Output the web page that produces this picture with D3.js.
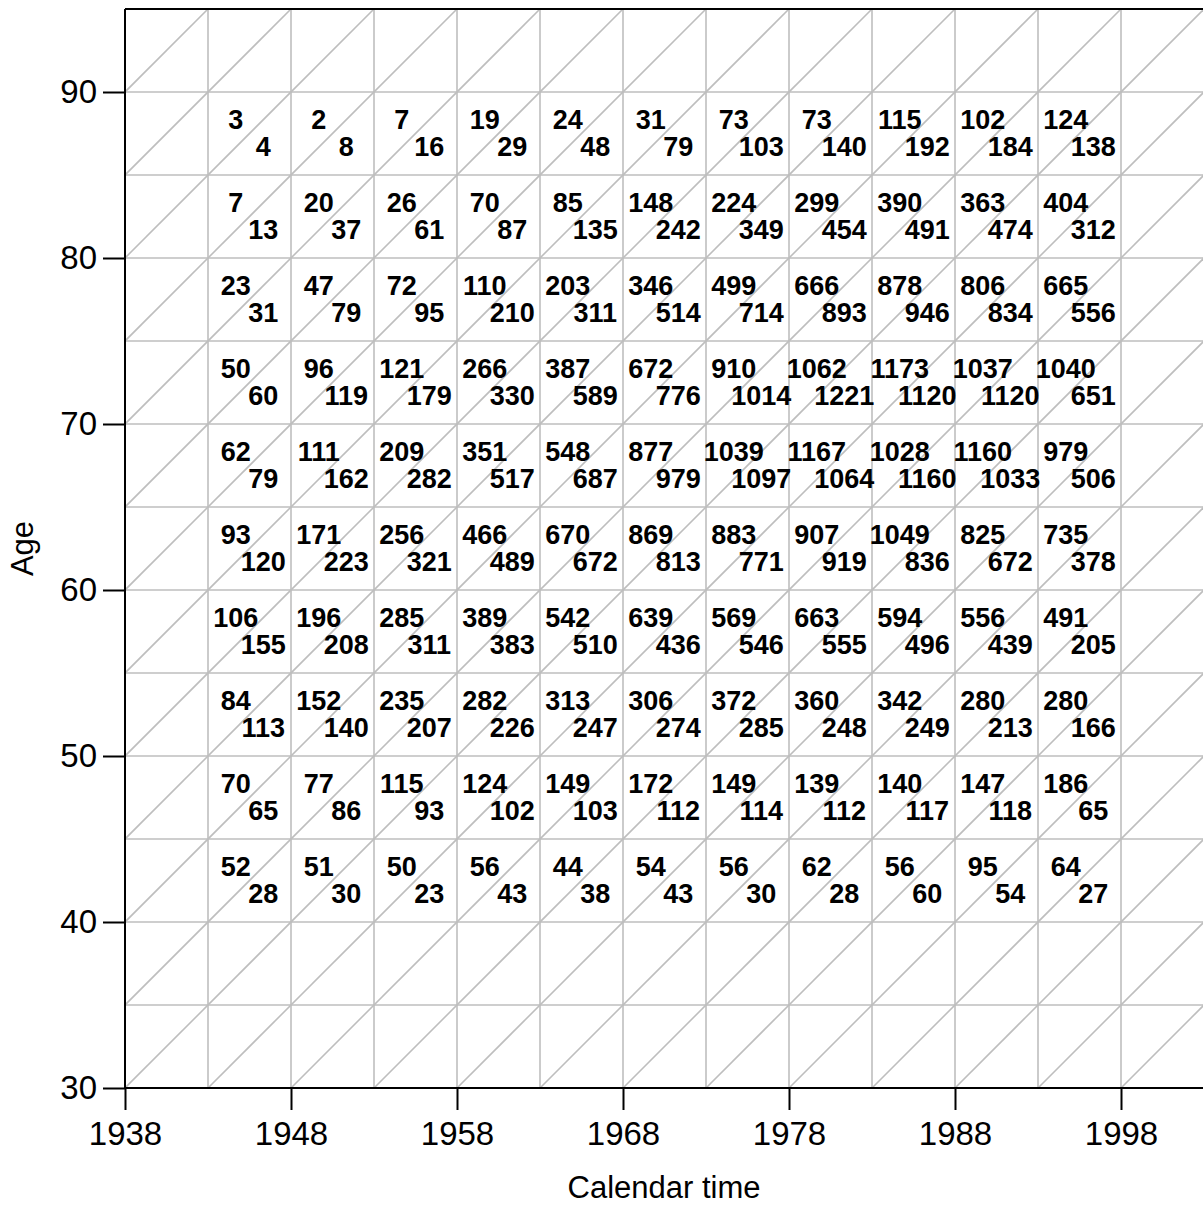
<!DOCTYPE html>
<html>
<head>
<meta charset="utf-8">
<script src="https://cdn.jsdelivr.net/npm/d3@7"></script>
<style>
  html, body { margin: 0; padding: 0; background: #fff; }
  svg { display: block; font-family: "Liberation Sans", Arial, sans-serif; }
</style>
</head>
<body>
<div id="chart"></div>
<script>
// 5-year calendar periods and age groups holding counts
const periodStarts = [1943, 1948, 1953, 1958, 1963, 1968, 1973, 1978, 1983, 1988, 1993];
const ageStarts = [85, 80, 75, 70, 65, 60, 55, 50, 45, 40];

// upper-left triangle counts, one row per age group (top to bottom)
const upperCounts = [
    [3, 2, 7, 19, 24, 31, 73, 73, 115, 102, 124],
    [7, 20, 26, 70, 85, 148, 224, 299, 390, 363, 404],
    [23, 47, 72, 110, 203, 346, 499, 666, 878, 806, 665],
    [50, 96, 121, 266, 387, 672, 910, 1062, 1173, 1037, 1040],
    [62, 111, 209, 351, 548, 877, 1039, 1167, 1028, 1160, 979],
    [93, 171, 256, 466, 670, 869, 883, 907, 1049, 825, 735],
    [106, 196, 285, 389, 542, 639, 569, 663, 594, 556, 491],
    [84, 152, 235, 282, 313, 306, 372, 360, 342, 280, 280],
    [70, 77, 115, 124, 149, 172, 149, 139, 140, 147, 186],
    [52, 51, 50, 56, 44, 54, 56, 62, 56, 95, 64]
];

// lower-right triangle counts
const lowerCounts = [
    [4, 8, 16, 29, 48, 79, 103, 140, 192, 184, 138],
    [13, 37, 61, 87, 135, 242, 349, 454, 491, 474, 312],
    [31, 79, 95, 210, 311, 514, 714, 893, 946, 834, 556],
    [60, 119, 179, 330, 589, 776, 1014, 1221, 1120, 1120, 651],
    [79, 162, 282, 517, 687, 979, 1097, 1064, 1160, 1033, 506],
    [120, 223, 321, 489, 672, 813, 771, 919, 836, 672, 378],
    [155, 208, 311, 383, 510, 436, 546, 555, 496, 439, 205],
    [113, 140, 207, 226, 247, 274, 285, 248, 249, 213, 166],
    [65, 86, 93, 102, 103, 112, 114, 112, 117, 118, 65],
    [28, 30, 23, 43, 38, 43, 30, 28, 60, 54, 27]
];

const xTicks = [1938, 1948, 1958, 1968, 1978, 1988, 1998];
const yTicks = [30, 40, 50, 60, 70, 80, 90];

const width = 1203;
const height = 1205;
const step = 5;

const x = d3.scaleLinear().domain([1938, 2003]).range([125, 1204]);
const y = d3.scaleLinear().domain([30, 95]).range([1088, 9]);

const svg = d3.select('#chart').append('svg')
    .attr('width', width)
    .attr('height', height);

svg.append('clipPath').attr('id', 'plot-clip')
    .append('rect')
    .attr('x', x(1938))
    .attr('y', y(95))
    .attr('width', x(2003) - x(1938))
    .attr('height', y(30) - y(95));

const grid = svg.append('g')
    .attr('clip-path', 'url(#plot-clip)')
    .attr('stroke', '#bebebe')
    .attr('stroke-width', 1.6)
    .attr('fill', 'none');

const vLines = d3.range(1943, 2004, step);
const hLines = d3.range(35, 95, step);
// diagonals: constant (year - age), i.e. birth cohorts
const cohorts = d3.range(1843, 1974, step);

grid.selectAll('line.v').data(vLines).enter().append('line')
    .attr('class', 'v')
    .attr('x1', d => x(d)).attr('x2', d => x(d))
    .attr('y1', y(30)).attr('y2', y(95));

grid.selectAll('line.h').data(hLines).enter().append('line')
    .attr('class', 'h')
    .attr('x1', x(1938)).attr('x2', x(2003))
    .attr('y1', d => y(d)).attr('y2', d => y(d));

grid.selectAll('line.d').data(cohorts).enter().append('line')
    .attr('class', 'd')
    .attr('x1', d => x(d + 30)).attr('y1', y(30))
    .attr('x2', d => x(d + 95)).attr('y2', y(95));

// triangle labels at centroids
const cells = [];
ageStarts.forEach((a, i) => {
    periodStarts.forEach((p, j) => {
        cells.push({ px: p + step / 3, py: a + 2 * step / 3, v: upperCounts[i][j] });
        cells.push({ px: p + 2 * step / 3, py: a + step / 3, v: lowerCounts[i][j] });
    });
});

svg.append('g')
    .selectAll('text')
    .data(cells)
    .enter()
    .append('text')
    .attr('x', d => x(d.px))
    .attr('y', d => y(d.py))
    .attr('text-anchor', 'middle')
    .attr('dominant-baseline', 'central')
    .attr('font-size', 27)
    .attr('font-weight', 'bold')
    .attr('fill', '#000')
    .text(d => d.v);

// frame: left, top, bottom (right edge runs off the page)
const frame = svg.append('g')
    .attr('stroke', '#000')
    .attr('stroke-width', 2)
    .attr('fill', 'none');
frame.append('line').attr('x1', x(1938)).attr('x2', x(1938)).attr('y1', y(30)).attr('y2', y(95));
frame.append('line').attr('x1', x(1938)).attr('x2', x(2003)).attr('y1', y(95)).attr('y2', y(95));
frame.append('line').attr('x1', x(1938)).attr('x2', x(2003)).attr('y1', y(30)).attr('y2', y(30));

const xAxis = svg.append('g')
    .attr('transform', `translate(0,${y(30)})`)
    .call(d3.axisBottom(x).tickValues(xTicks).tickFormat(d3.format('d')).tickSize(22).tickPadding(12));

const yAxis = svg.append('g')
    .attr('transform', `translate(${x(1938)},0)`)
    .call(d3.axisLeft(y).tickValues(yTicks).tickSize(22).tickPadding(6));

[xAxis, yAxis].forEach(ax => {
    ax.select('.domain').remove();
    ax.selectAll('.tick line').attr('stroke', '#000').attr('stroke-width', 2);
    ax.selectAll('.tick text')
        .attr('fill', '#000')
        .attr('font-size', 33)
        .attr('font-family', '"Liberation Sans", Arial, sans-serif');
});

svg.append('text')
    .attr('x', (x(1938) + 1203) / 2)
    .attr('y', 1198)
    .attr('text-anchor', 'middle')
    .attr('font-size', 31)
    .text('Calendar time');

svg.append('text')
    .attr('transform', `translate(33,${(y(30) + y(95)) / 2}) rotate(-90)`)
    .attr('text-anchor', 'middle')
    .attr('font-size', 31)
    .text('Age');
</script>
</body>
</html>
